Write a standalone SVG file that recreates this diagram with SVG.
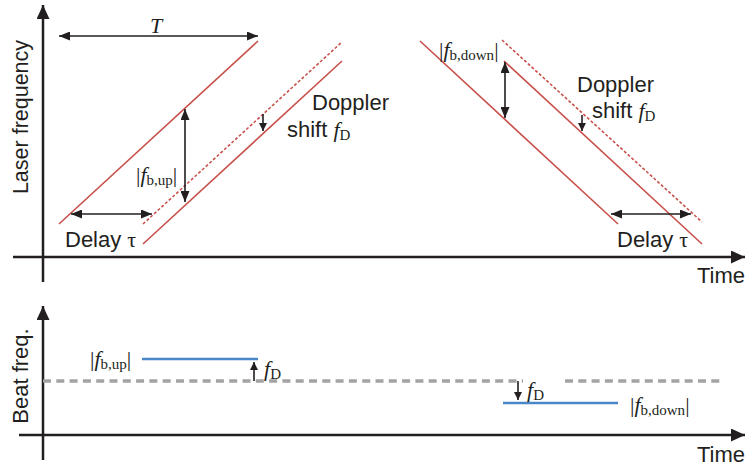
<svg xmlns="http://www.w3.org/2000/svg" width="745" height="468" viewBox="0 0 745 468">
<defs>
<marker id="ah" markerUnits="userSpaceOnUse" markerWidth="12" markerHeight="9" refX="11" refY="4.5" orient="auto-start-reverse"><path d="M0,0 L11,4.5 L0,9 z" fill="#231f20"/></marker>
<marker id="ahs" markerUnits="userSpaceOnUse" markerWidth="9" markerHeight="8" refX="8" refY="4" orient="auto-start-reverse"><path d="M0,0 L8,4 L0,8 z" fill="#231f20"/></marker>
<marker id="axh" markerUnits="userSpaceOnUse" markerWidth="15" markerHeight="13" refX="14" refY="6.5" orient="auto"><path d="M0,0 L14,6.5 L0,13 z" fill="#231f20"/></marker>
</defs>
<style>
.ax{stroke:#231f20;stroke-width:2.5;fill:none}
.ar{stroke:#231f20;stroke-width:1.6;fill:none}
.red{stroke:#c8504a;stroke-width:1.6;fill:none}
.dot{stroke:#c8504a;stroke-width:1.6;fill:none;stroke-dasharray:3 2}
.blue{stroke:#4a86c8;stroke-width:2.6}
.gray{stroke:#a3a3a3;stroke-width:3.5;stroke-dasharray:8 5.3}
.sans{font-family:"Liberation Sans",Arial,sans-serif;font-size:22px;fill:#231f20}
.math{font-family:"Liberation Serif","Times New Roman",serif;font-size:22px;fill:#231f20}
.it{font-style:italic}
.sub{font-size:15px}
</style>
<g id="axes">
<line class="ax" x1="43" y1="282" x2="43" y2="5" marker-end="url(#axh)"/>
<line class="ax" x1="13" y1="257" x2="745" y2="257" marker-end="url(#axh)"/>
<line class="ax" x1="43" y1="460" x2="43" y2="306" marker-end="url(#axh)"/>
<line class="ax" x1="19" y1="435" x2="745" y2="435" marker-end="url(#axh)"/>
<text class="sans" style="font-size:21.5px" transform="translate(28,117) rotate(-90)" text-anchor="middle">Laser frequency</text>
<text class="sans" transform="translate(28,376) rotate(-90)" text-anchor="middle">Beat freq.</text>
<text class="sans" x="745" y="283" text-anchor="end">Time</text>
<text class="sans" x="745" y="462" text-anchor="end">Time</text>
</g>
<g id="up-chirp">
<line class="red" x1="59" y1="224" x2="258" y2="41"/>
<line class="dot" x1="143" y1="224" x2="342" y2="42"/>
<line class="red" x1="143" y1="244" x2="342" y2="61"/>
</g>
<g id="down-chirp">
<line class="red" x1="420" y1="41" x2="618" y2="224"/>
<line class="dot" x1="502" y1="40" x2="702" y2="222"/>
<line class="red" x1="504" y1="61" x2="702" y2="244"/>
</g>
<g id="connectors">
<line class="ar" x1="59" y1="36" x2="258" y2="36" marker-start="url(#ah)" marker-end="url(#ah)"/>
<line class="ar" x1="185" y1="109" x2="185" y2="202" marker-start="url(#ah)" marker-end="url(#ah)"/>
<line class="ar" x1="71" y1="214" x2="152" y2="214" marker-start="url(#ah)" marker-end="url(#ah)"/>
<line class="ar" x1="263" y1="114" x2="263" y2="131" marker-end="url(#ahs)"/>
<line class="ar" x1="505" y1="62" x2="505" y2="118" marker-start="url(#ah)" marker-end="url(#ah)"/>
<line class="ar" x1="582" y1="115" x2="582" y2="131" marker-end="url(#ahs)"/>
<line class="ar" x1="611" y1="214" x2="691" y2="214" marker-start="url(#ah)" marker-end="url(#ah)"/>
<line class="ar" x1="254" y1="381" x2="254" y2="362" marker-end="url(#ahs)"/>
<line class="ar" x1="518" y1="381" x2="518" y2="400" marker-end="url(#ahs)"/>
</g>
<g id="labels-top">
<text class="math it" x="156" y="33" text-anchor="middle">T</text>
<text class="math" x="136" y="182">|<tspan class="it">f</tspan><tspan class="sub" dy="3">b,up</tspan><tspan dy="-3">|</tspan></text>
<text class="sans" x="65" y="247">Delay <tspan class="math">τ</tspan></text>
<text class="sans" x="312" y="110">Doppler</text>
<text class="sans" x="287" y="137">shift <tspan class="math it">f</tspan><tspan class="math sub" dy="3">D</tspan></text>
<text class="math" x="439" y="57">|<tspan class="it">f</tspan><tspan class="sub" dy="3">b,down</tspan><tspan dy="-3">|</tspan></text>
<text class="sans" x="577" y="92">Doppler</text>
<text class="sans" x="592" y="118">shift <tspan class="math it">f</tspan><tspan class="math sub" dy="3">D</tspan></text>
<text class="sans" x="617" y="247">Delay <tspan class="math">τ</tspan></text>
</g>
<g id="beat">
<line class="gray" x1="43" y1="381" x2="523" y2="381"/>
<line class="gray" x1="565" y1="381" x2="720" y2="381"/>
<line class="blue" x1="142" y1="359" x2="258" y2="359"/>
<line class="blue" x1="503" y1="403" x2="618" y2="403"/>
<text class="math" x="90" y="366">|<tspan class="it">f</tspan><tspan class="sub" dy="3">b,up</tspan><tspan dy="-3">|</tspan></text>
<text class="math" x="264" y="376"><tspan class="it">f</tspan><tspan class="sub" dy="3">D</tspan></text>
<text class="math" x="527" y="397"><tspan class="it">f</tspan><tspan class="sub" dy="3">D</tspan></text>
<text class="math" x="630" y="412">|<tspan class="it">f</tspan><tspan class="sub" dy="3">b,down</tspan><tspan dy="-3">|</tspan></text>
</g>
</svg>
